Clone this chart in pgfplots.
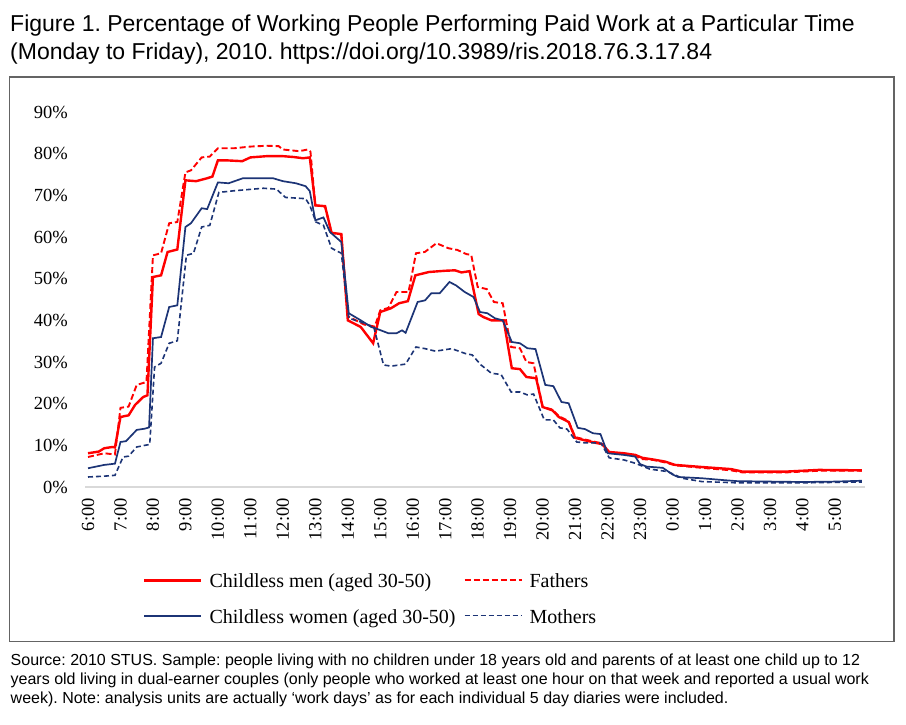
\documentclass[border=0pt]{standalone}
\usepackage{pgfplots}
\pgfplotsset{compat=1.18}
\usepackage{fontspec}
\setmainfont{Liberation Serif}
\newfontfamily\arial{Liberation Sans}
\frenchspacing
\definecolor{cred}{RGB}{255,0,0}
\definecolor{cnavy}{RGB}{28,52,118}
\definecolor{cframe}{RGB}{100,100,100}
\definecolor{caxis}{RGB}{217,217,217}
\begin{document}
\begin{tikzpicture}[x=1pt,y=1pt]
\path[use as bounding box,fill=white] (0,0) rectangle (906,725);
\draw[cframe,line width=1.3pt] (9.5,{725-77}) rectangle (894,{725-641.7});
\node[anchor=base west,inner sep=0pt] at (10,{725-31.7}) {\arial\fontsize{23}{27}\selectfont Figure 1. Percentage of Working People Performing Paid Work at a Particular Time};
\node[anchor=base west,inner sep=0pt] at (10,{725-59.3}) {\arial\fontsize{23}{27}\selectfont (Monday to Friday), 2010. https://doi.org/10.3989/ris.2018.76.3.17.84};
\node[anchor=base west,inner sep=0pt] at (10.5,{725-666}) {\arial\fontsize{16}{19}\selectfont Source: 2010 STUS. Sample: people living with no children under 18 years old and parents of at least one child up to 12};
\node[anchor=base west,inner sep=0pt] at (10.5,{725-685}) {\arial\fontsize{16}{19}\selectfont years old living in dual-earner couples (only people who worked at least one hour on that week and reported a usual work};
\node[anchor=base west,inner sep=0pt] at (10.5,{725-704}) {\arial\fontsize{16}{19}\selectfont week). Note: analysis units are actually ‘work days’ as for each individual 5 day diaries were included.};
\begin{axis}[
  at={(85.3pt,238pt)}, anchor=south west,
  scale only axis, width=779.4pt, height=375pt,
  xmin=5.9167, xmax=29.9167, ymin=0, ymax=90,
  axis lines*=left,
  y axis line style={draw=none},
  x axis line style={draw=caxis,line width=1.4pt},
  major tick length=0pt,
  tick style={draw=none},
  xtick={6,...,29},
  xticklabels={6:00,7:00,8:00,9:00,10:00,11:00,12:00,13:00,14:00,15:00,16:00,17:00,18:00,19:00,20:00,21:00,22:00,23:00,0:00,1:00,2:00,3:00,4:00,5:00},
  ytick={0,10,...,90},
  yticklabels={0\%,10\%,20\%,30\%,40\%,50\%,60\%,70\%,80\%,90\%},
  xticklabel style={rotate=90,anchor=east,inner sep=0pt,font=\fontsize{18.5}{20}\selectfont},
  yticklabel style={anchor=east,inner sep=0pt,font=\fontsize{18.5}{20}\selectfont},
  xticklabel shift=11pt,
  yticklabel shift=17.3pt,
  clip=false,
  legend columns=2,
  legend style={draw=none,fill=none,inner sep=0pt,
    at={(axis description cs:0.0740,-0.2312)},anchor=north west,
    font=\fontsize{20}{22}\selectfont,
    row sep=16.3pt,
    nodes={inner sep=0pt,text height=14pt,text depth=5pt},
    cells={anchor=west},
    /tikz/every odd column/.style={column sep=7pt},
    /tikz/every even column/.style={column sep=8pt}},
  legend image code/.code={\draw[#1,line cap=butt] (0pt,3pt) -- (57pt,3pt);},
]
% Childless men
\addplot[cred,line width=2.4pt] table[row sep=\\] {
6.0 8.1\\ 6.33 8.5\\ 6.5 9.3\\ 6.75 9.6\\ 6.83 9.5\\ 7.0 16.8\\ 7.25 17.2\\ 7.45 19.7\\ 7.7 21.6\\ 7.83 22.0\\
8.0 50.4\\ 8.25 50.8\\ 8.45 56.4\\ 8.75 57.0\\ 9.0 73.6\\ 9.33 73.4\\ 9.67 74.1\\ 9.83 74.5\\ 10.0 78.4\\ 10.25 78.4\\
10.5 78.3\\ 10.75 78.2\\ 11.0 79.1\\ 11.5 79.4\\ 12.0 79.4\\ 12.33 79.2\\ 12.62 78.9\\ 12.83 79.1\\ 13.0 67.6\\ 13.3 67.4\\
13.5 61.0\\ 13.8 60.7\\ 14.0 40.0\\ 14.4 38.4\\ 14.78 34.5\\ 15.0 42.0\\ 15.33 42.9\\ 15.58 44.1\\ 15.85 44.6\\ 16.08 50.8\\
16.5 51.6\\ 17.0 51.9\\ 17.3 52.0\\ 17.5 51.5\\ 17.75 51.8\\ 18.03 41.5\\ 18.17 40.8\\ 18.42 40.0\\ 18.8 40.0\\ 19.05 28.5\\
19.3 28.3\\ 19.5 26.4\\ 19.8 26.1\\ 20.0 19.2\\ 20.3 18.4\\ 20.5 16.8\\ 20.8 15.6\\ 21.0 11.8\\ 21.25 11.3\\ 21.63 10.6\\
21.83 10.3\\ 22.05 8.4\\ 22.5 8.1\\ 22.85 7.7\\ 23.07 7.0\\ 23.4 6.6\\ 23.77 6.1\\ 24.08 5.3\\ 24.9 4.8\\ 25.8 4.3\\
26.15 3.7\\ 27.5 3.7\\ 28.5 4.1\\ 29.83 4.0\\
};
\addlegendentry{Childless men (aged 30-50)}
% Fathers
\addplot[cred,line width=1.9pt,dash pattern=on 6pt off 3pt] table[row sep=\\] {
6.0 7.2\\ 6.5 8.1\\ 6.83 7.8\\ 7.0 19.0\\ 7.25 19.3\\ 7.5 24.5\\ 7.8 25.2\\ 8.0 55.6\\ 8.25 56.1\\ 8.5 63.3\\
8.75 63.6\\ 9.0 75.5\\ 9.17 76.0\\ 9.5 79.1\\ 9.75 79.3\\ 10.0 81.3\\ 10.5 81.3\\ 11.0 81.7\\ 11.5 81.9\\ 11.87 81.8\\
12.0 81.0\\ 12.5 80.6\\ 12.77 81.0\\ 12.85 80.5\\ 13.0 67.6\\ 13.3 67.3\\ 13.5 61.0\\ 13.8 60.6\\ 14.0 41.0\\ 14.5 39.0\\
14.83 38.5\\ 15.0 42.4\\ 15.25 43.0\\ 15.5 46.8\\ 15.87 46.8\\ 16.1 56.1\\ 16.37 56.4\\ 16.73 58.5\\ 17.1 57.3\\ 17.37 56.9\\
17.65 55.9\\ 17.8 55.7\\ 18.0 48.0\\ 18.28 47.5\\ 18.5 44.4\\ 18.77 44.1\\ 19.03 33.6\\ 19.3 33.3\\ 19.5 30.0\\ 19.72 29.7\\
20.0 19.2\\ 20.3 18.6\\ 20.5 17.0\\ 20.8 15.8\\ 21.0 12.0\\ 21.25 11.5\\ 21.63 10.8\\ 21.83 10.5\\ 22.05 8.2\\ 22.5 7.9\\
22.85 7.5\\ 23.07 6.7\\ 23.4 6.5\\ 23.77 5.9\\ 24.08 5.2\\ 24.9 4.6\\ 25.8 4.0\\ 26.15 3.5\\ 27.5 3.5\\ 28.5 3.9\\ 29.83 3.9\\
};
\addlegendentry{Fathers}
% Childless women
\addplot[cnavy,line width=1.7pt] table[row sep=\\] {
6.0 4.5\\ 6.5 5.3\\ 6.83 5.6\\ 7.0 10.8\\ 7.17 11.0\\ 7.5 13.7\\ 7.75 14.0\\ 7.88 14.3\\ 8.0 35.7\\ 8.25 36.0\\
8.5 43.2\\ 8.75 43.6\\ 9.0 62.4\\ 9.17 63.3\\ 9.5 66.9\\ 9.67 66.7\\ 10.0 73.1\\ 10.33 72.9\\ 10.77 74.1\\ 11.7 74.1\\
12.0 73.4\\ 12.4 72.9\\ 12.7 72.2\\ 12.83 71.0\\ 13.0 64.0\\ 13.25 64.7\\ 13.45 61.2\\ 13.8 58.8\\ 14.03 41.7\\ 14.4 40.0\\
14.72 38.4\\ 14.85 38.1\\ 15.25 36.9\\ 15.5 36.9\\ 15.67 37.6\\ 15.78 37.0\\ 16.15 44.4\\ 16.38 44.8\\ 16.57 46.5\\ 16.83 46.5\\
17.13 49.2\\ 17.33 48.4\\ 17.6 46.8\\ 17.87 45.6\\ 18.07 42.0\\ 18.3 41.7\\ 18.53 40.5\\ 18.77 40.0\\ 19.05 34.8\\ 19.3 34.5\\
19.53 33.3\\ 19.78 33.1\\ 20.08 24.5\\ 20.33 24.2\\ 20.58 20.4\\ 20.8 20.1\\ 21.08 14.2\\ 21.3 13.9\\ 21.55 12.9\\ 21.78 12.7\\
22.0 8.1\\ 22.5 7.7\\ 22.85 7.3\\ 23.0 5.5\\ 23.2 4.9\\ 23.7 4.6\\ 24.0 3.0\\ 24.17 2.4\\ 24.9 2.1\\ 25.5 1.7\\
26.0 1.4\\ 28.0 1.2\\ 29.0 1.3\\ 29.83 1.5\\
};
\addlegendentry{Childless women (aged 30-50)}
% Mothers
\addplot[cnavy,line width=1.6pt,dash pattern=on 5pt off 3pt] table[row sep=\\] {
6.0 2.4\\ 6.5 2.6\\ 6.83 2.8\\ 7.08 7.2\\ 7.25 7.4\\ 7.5 9.6\\ 7.75 10.0\\ 7.9 10.2\\ 8.05 28.8\\ 8.25 29.7\\
8.5 34.5\\ 8.75 35.1\\ 9.03 55.6\\ 9.25 56.1\\ 9.5 62.4\\ 9.75 62.8\\ 10.03 70.7\\ 10.5 71.1\\ 11.4 71.7\\ 11.8 71.5\\
12.08 69.5\\ 12.7 69.2\\ 12.83 67.6\\ 13.02 63.6\\ 13.25 62.8\\ 13.5 57.3\\ 13.8 56.1\\ 14.03 40.5\\ 14.4 39.6\\ 14.8 38.4\\
15.1 29.3\\ 15.33 29.0\\ 15.78 29.5\\ 16.1 33.6\\ 16.38 33.2\\ 16.7 32.6\\ 17.2 33.2\\ 17.63 32.0\\ 17.83 31.7\\ 18.1 29.3\\
18.42 27.3\\ 18.72 27.0\\ 19.03 22.8\\ 19.3 22.8\\ 19.53 22.1\\ 19.72 22.3\\ 20.05 16.1\\ 20.33 16.1\\ 20.53 14.2\\ 20.75 13.9\\
21.05 10.8\\ 21.3 10.6\\ 21.55 10.6\\ 21.8 10.5\\ 22.05 7.0\\ 22.5 6.5\\ 22.85 5.7\\ 23.3 4.3\\ 23.85 3.7\\ 24.3 2.1\\
24.9 1.3\\ 26.0 1.0\\ 28.0 1.0\\ 29.83 1.2\\
};
\addlegendentry{Mothers}
\end{axis}
\end{tikzpicture}
\end{document}
